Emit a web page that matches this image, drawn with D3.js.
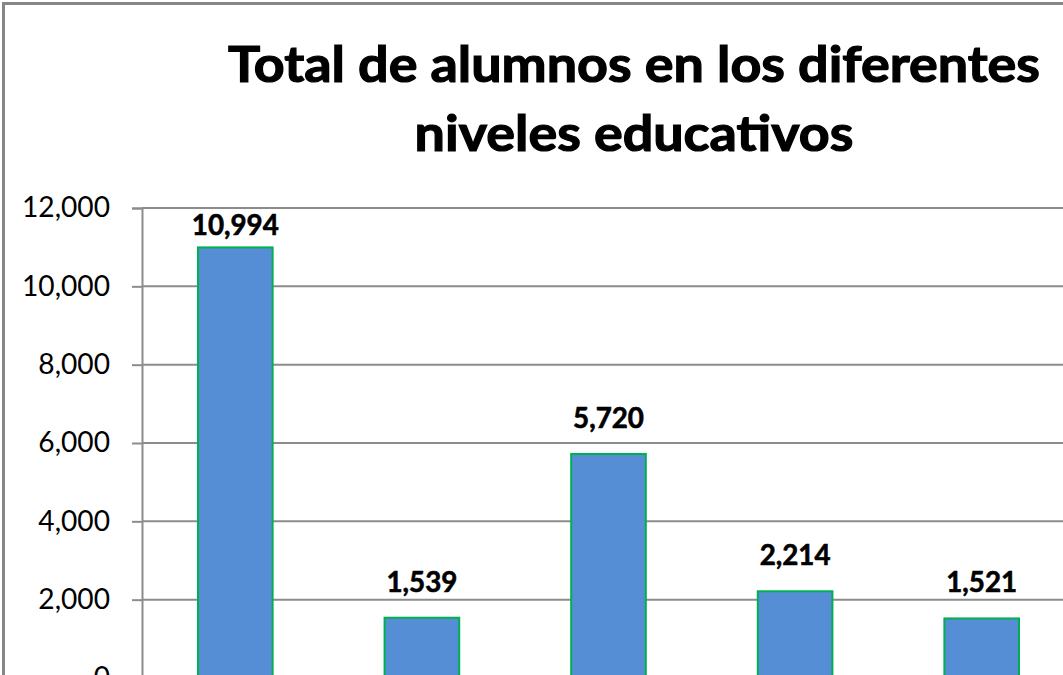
<!DOCTYPE html>
<html>
<head>
<meta charset="utf-8">
<script src="https://cdn.jsdelivr.net/npm/d3@7"></script>
<style>
  body { margin: 0; background: #fff; }
  svg { display: block; }
  text { font-family: Lato, "Open Sans", sans-serif; fill: #000; }
</style>
</head>
<body>
<div id="chart"></div>
<script>
// data
var niveles = ["Preescolar", "Primaria", "Secundaria", "Media superior", "Superior"];
var alumnos = [10994, 1539, 5720, 2214, 1521];
var yTicks = [0, 2000, 4000, 6000, 8000, 10000, 12000];
var titleLines = ["Total de alumnos en los diferentes", "niveles educativos"];

var W = 1063, H = 675;
var plot = {left: 142, right: 1075, top: 208, bottom: 678};

var svg = d3.select("#chart").append("svg")
    .attr("width", W)
    .attr("height", H);

// outer chart border (cropped on the right / bottom)
svg.append("rect")
    .attr("x", 3.5).attr("y", 3.5)
    .attr("width", W + 20).attr("height", H + 20)
    .attr("fill", "none")
    .attr("stroke", "#878787")
    .attr("stroke-width", 3);

// squeeze a text horizontally to a given width (Calibri is narrower than Lato)
function squeeze(sel, ratio) {
  sel.each(function() {
    var w = this.getComputedTextLength();
    d3.select(this).attr("textLength", w * ratio).attr("lengthAdjust", "spacingAndGlyphs");
  });
}

// title
var title = svg.append("g").selectAll("text")
  .data(titleLines)
  .join("text")
    .attr("x", 634)
    .attr("y", function(d, i) { return 82 + i * 69; })
    .attr("text-anchor", "middle")
    .attr("font-weight", "bold")
    .attr("font-size", 50)
    .attr("stroke", "#000")
    .attr("stroke-width", 1.2)
    .text(function(d) { return d; });
squeeze(title, 812 / title.nodes()[0].getComputedTextLength());

var x = d3.scaleBand()
    .domain(niveles)
    .range([plot.left, plot.right])
    .paddingInner(0.6)
    .paddingOuter(0.3);

var y = d3.scaleLinear()
    .domain([0, 12000])
    .range([plot.bottom, plot.top]);

var fmt = d3.format(",");

// gridlines
svg.append("g")
  .selectAll("line")
  .data(yTicks)
  .join("line")
    .attr("x1", plot.left).attr("x2", W + 10)
    .attr("y1", function(d) { return y(d); })
    .attr("y2", function(d) { return y(d); })
    .attr("stroke", "#8c8c8c")
    .attr("stroke-width", 2);

// y axis
var yAxis = svg.append("g")
    .attr("transform", "translate(" + plot.left + ",0)")
    .call(d3.axisLeft(y).tickValues(yTicks).tickFormat(fmt).tickSize(10).tickPadding(22));
yAxis.select(".domain").attr("stroke", "#8c8c8c").attr("stroke-width", 2);
yAxis.selectAll(".tick line").attr("stroke", "#8c8c8c").attr("stroke-width", 2);
var tickText = yAxis.selectAll(".tick text")
    .attr("font-family", "Lato, 'Open Sans', sans-serif")
    .attr("font-size", 28)
    .attr("fill", "#000");
var t12 = tickText.filter(function(d) { return d === 12000; }).node();
squeeze(tickText, 88 / t12.getComputedTextLength());

// bars
svg.append("g")
  .selectAll("rect")
  .data(alumnos)
  .join("rect")
    .attr("x", function(d, i) { return x(niveles[i]); })
    .attr("y", function(d) { return y(d); })
    .attr("width", x.bandwidth())
    .attr("height", function(d) { return y(0) - y(d); })
    .attr("fill", "#558ed5")
    .attr("stroke", "#00b050")
    .attr("stroke-width", 2);

// value labels
var labels = svg.append("g")
  .selectAll("text")
  .data(alumnos)
  .join("text")
    .attr("x", function(d, i) { return x(niveles[i]) + x.bandwidth() / 2; })
    .attr("y", function(d) { return Math.max(y(d) - 26, plot.top + 27); })
    .attr("text-anchor", "middle")
    .attr("font-weight", "bold")
    .attr("font-size", 28)
    .attr("stroke", "#000")
    .attr("stroke-width", 0.6)
    .text(function(d) { return fmt(d); });
var l0 = labels.filter(function(d) { return d === 10994; }).node();
squeeze(labels, 87 / l0.getComputedTextLength());
</script>
</body>
</html>
